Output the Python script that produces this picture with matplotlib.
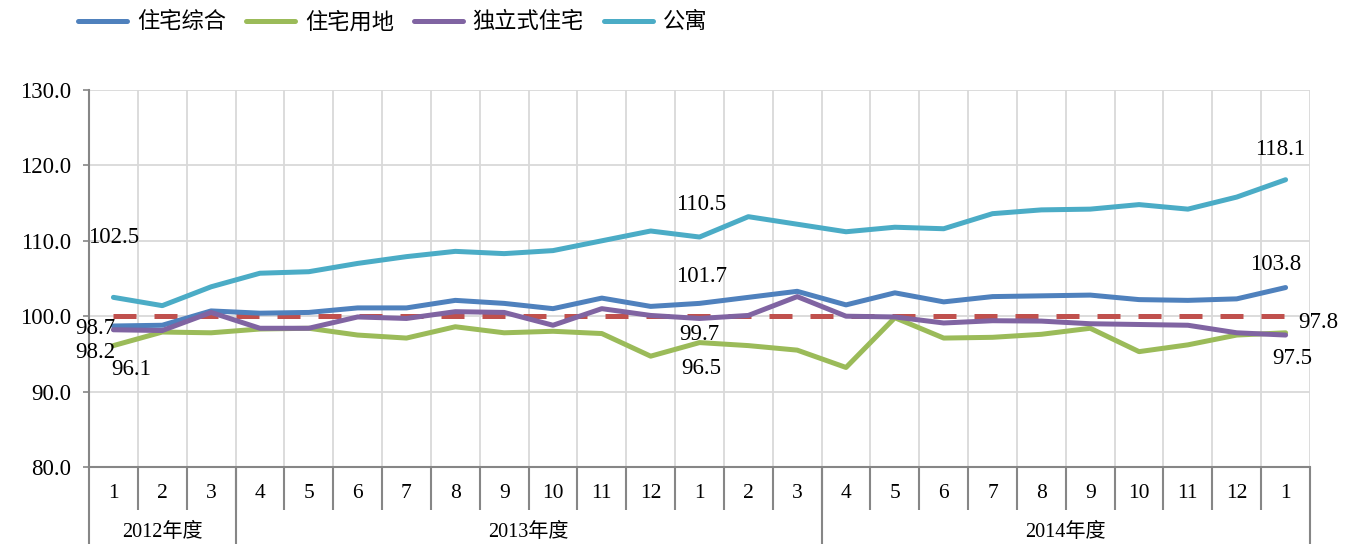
import numpy as np
import matplotlib
matplotlib.use("Agg")
import matplotlib.pyplot as plt

plt.rcParams['font.family'] = ['Liberation Serif', 'Noto Sans CJK SC', 'DejaVu Sans']

# ---------------- Data ----------------
months = ["1", "2", "3", "4", "5", "6", "7", "8", "9", "10", "11", "12",
          "1", "2", "3", "4", "5", "6", "7", "8", "9", "10", "11", "12", "1"]
years = ["2012年度", "2013年度", "2014年度"]
year_span = [(0, 3), (3, 15), (15, 25)]   # index ranges of each fiscal year

housing_all = [98.7, 98.8, 100.7, 100.4, 100.5, 101.1, 101.1, 102.1, 101.7, 101.0,
               102.4, 101.3, 101.7, 102.5, 103.3, 101.5, 103.1, 101.9, 102.6, 102.7,
               102.8, 102.2, 102.1, 102.3, 103.8]
land = [96.1, 97.9, 97.8, 98.3, 98.4, 97.5, 97.1, 98.6, 97.8, 98.0,
        97.7, 94.7, 96.5, 96.1, 95.5, 93.2, 99.8, 97.1, 97.2, 97.6,
        98.4, 95.3, 96.2, 97.5, 97.8]
detached = [98.2, 98.1, 100.5, 98.4, 98.4, 99.9, 99.7, 100.6, 100.5, 98.8,
            101.0, 100.1, 99.7, 100.1, 102.6, 100.0, 99.9, 99.1, 99.4, 99.35,
            99.0, 98.9, 98.8, 97.8, 97.5]
condo = [102.5, 101.4, 103.9, 105.7, 105.9, 107.0, 107.9, 108.6, 108.3, 108.7,
         110.0, 111.3, 110.5, 113.2, 112.2, 111.2, 111.8, 111.6, 113.6, 114.1,
         114.2, 114.8, 114.2, 115.8, 118.1]
baseline = [100.0] * len(months)

series_names = ["住宅综合", "住宅用地", "独立式住宅", "公寓"]
colors = ["#4F81BD", "#9BBB59", "#8064A2", "#4BACC6"]

# ---------------- Figure ----------------
fig = plt.figure(figsize=(13.53, 5.44), dpi=100)
ax = fig.add_axes([89 / 1353, 77 / 544, 1221 / 1353, 377 / 544])

x = np.arange(len(months))
ax.plot(x, baseline, color="#C0504D", lw=3.6, dashes=(4.6, 3.6), zorder=2)
series = [housing_all, land, detached, condo]
lines = []
for s, name, c, z in zip(series, series_names, colors, [3, 3.5, 4, 5]):
    ln, = ax.plot(x, s, color=c, lw=3.6, label=name, zorder=z,
                  solid_capstyle="round", solid_joinstyle="round")
    lines.append(ln)

ax.set_xlim(-0.5, len(months) - 0.5)
ax.set_ylim(80, 130)
ax.set_yticks(np.arange(80, 131, 10))
ax.set_yticklabels([f"{v:.1f}" for v in np.arange(80, 131, 10)], fontsize=16.5)
ax.set_xticks(x)
ax.set_xticklabels(months, fontsize=15.5)
ax.set_xticks(np.arange(-0.5, len(months)), minor=True)
ax.tick_params(axis="x", which="both", length=0, pad=12)
ax.tick_params(axis="y", length=4, width=1.2, color="#868686", pad=9)

ax.grid(True, axis="y", color="#D9D9D9", lw=1.3)
ax.grid(True, axis="x", which="minor", color="#D9D9D9", lw=1.3)
for side in ["top", "right"]:
    ax.spines[side].set_visible(False)
for side in ["left", "bottom"]:
    ax.spines[side].set_color("#868686")
    ax.spines[side].set_linewidth(1.5)
ax.set_axisbelow(True)

# category separators below the axis
trans = ax.get_xaxis_transform()
ax.vlines(np.arange(0.5, len(months) - 1), 0, -43 / 377, transform=trans,
          color="#868686", lw=1.5, clip_on=False)
bounds = sorted({a - 0.5 for a, b in year_span} | {b - 0.5 for a, b in year_span})
ax.vlines(bounds, 0, -77 / 377, transform=trans, color="#868686", lw=1.5, clip_on=False)
for name, (a, b) in zip(years, year_span):
    ax.text((a + b - 1) / 2, -65 / 377, name, transform=trans, ha="center",
            va="center", fontsize=14.5)

# data labels
def label(s, i, dx, dy):
    ax.annotate(f"{s[i]:.1f}", (x[i], s[i]), xytext=(dx, dy), textcoords="offset pixels",
                ha="center", va="center", fontsize=16.5, zorder=6)

label(condo, 0, 0, 60)
label(housing_all, 0, -18, -2)
label(detached, 0, -18, -23)
label(land, 0, 18, -24)
label(condo, 12, 2, 33)
label(housing_all, 12, 2, 27)
label(detached, 12, 0, -16)
label(land, 12, 2, -26)
label(condo, 24, -5, 30)
label(housing_all, 24, -10, 23)
label(land, 24, 33, 10)
label(detached, 24, 7, -23)

fig.legend(handles=lines, loc="upper left", bbox_to_anchor=(78 / 1353, 1 - 12 / 544),
           ncol=4, frameon=False, fontsize=16, handlelength=2.2, handletextpad=0.45,
           columnspacing=0.9, borderpad=0, borderaxespad=0)

fig.savefig("out.png", dpi=100)
